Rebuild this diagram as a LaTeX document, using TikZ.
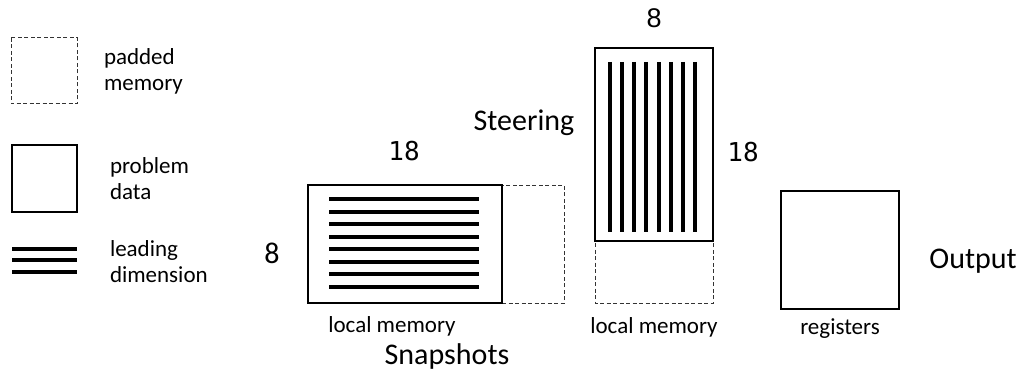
\documentclass[tikz,border=0pt]{standalone}
\usepackage{fontspec}
\setmainfont{Carlito}
\newfontfamily\digitfont{DejaVu Sans Mono}
\newfontfamily\arialfont{Liberation Sans}
\usetikzlibrary{positioning}

\begin{document}
\begin{tikzpicture}[x=1pt,y=-1pt,inner sep=0pt,outer sep=0pt,
				data box/.style={draw,line width=1.2pt,fill=white},
				pad box/.style={draw=black!80,dashed,dash pattern=on 4pt off 2.5pt,line width=1pt},
				lead line/.style={line width=4pt},
				small text/.style={font=\fontsize{23}{26}\selectfont,align=left,anchor=base west},
				big text/.style={font=\fontsize{30}{32}\selectfont,anchor=base},
				dim text/.style={font=\digitfont\fontsize{26}{30}\selectfont}]
				
				\useasboundingbox (0,0) rectangle (1024,374);
				
				% legend
				\draw[pad box] (11,38) rectangle (77,104);
				\node[small text] (padtxt) at (104,91) {padded\\memory};
				\draw[data box] (12,145) rectangle (77,212);
				\node[small text] (probtxt) at (110,199) {problem\\data};
				\foreach \y in {249,260,272}
				\draw[lead line] (12,\y) -- (77,\y);
				\node[small text] (leadtxt) at (110,282) {leading\\dimension};
				
				% snapshots
				\draw[pad box] (308,185) rectangle (564,303);
				\draw[data box] (308,185) rectangle (502,303);
				\foreach \i in {0,...,7}
				\draw[lead line] (329,199+12.57*\i) -- (479,199+12.57*\i);
				\node[dim text] (snapcols) at (404,151) {18};
				\node[font=\fontsize{30}{32}\selectfont] (snaprows) at (272,253) {8};
				\node[small text,anchor=base] (snapmem) at (392,332) {local memory};
				\node[big text] (snaptxt) at (447,364) {Snapshots};
				
				% steering
				\draw[pad box] (595,48) rectangle (713,303);
				\draw[data box] (595,48) rectangle (713,241);
				\foreach \i in {0,...,7}
				\draw[lead line] (610+12.14*\i,62) -- (610+12.14*\i,232);
				\node[font=\arialfont\fontsize{27}{30}\selectfont] (steercols) at (654,18) {8};
				\node[dim text] (steerrows) at (743,152) {18};
				\node[big text] (steertxt) at (524,131) {Steering};
				\node[small text,anchor=base] (steermem) at (654,333) {local memory};
				
				% output
				\draw[data box] (781,191) rectangle (899,309);
				\node[small text,anchor=base] (regtxt) at (840,334) {registers};
				\node[big text] (outtxt) at (973,268) {Output};
				
\end{tikzpicture}
\end{document}
